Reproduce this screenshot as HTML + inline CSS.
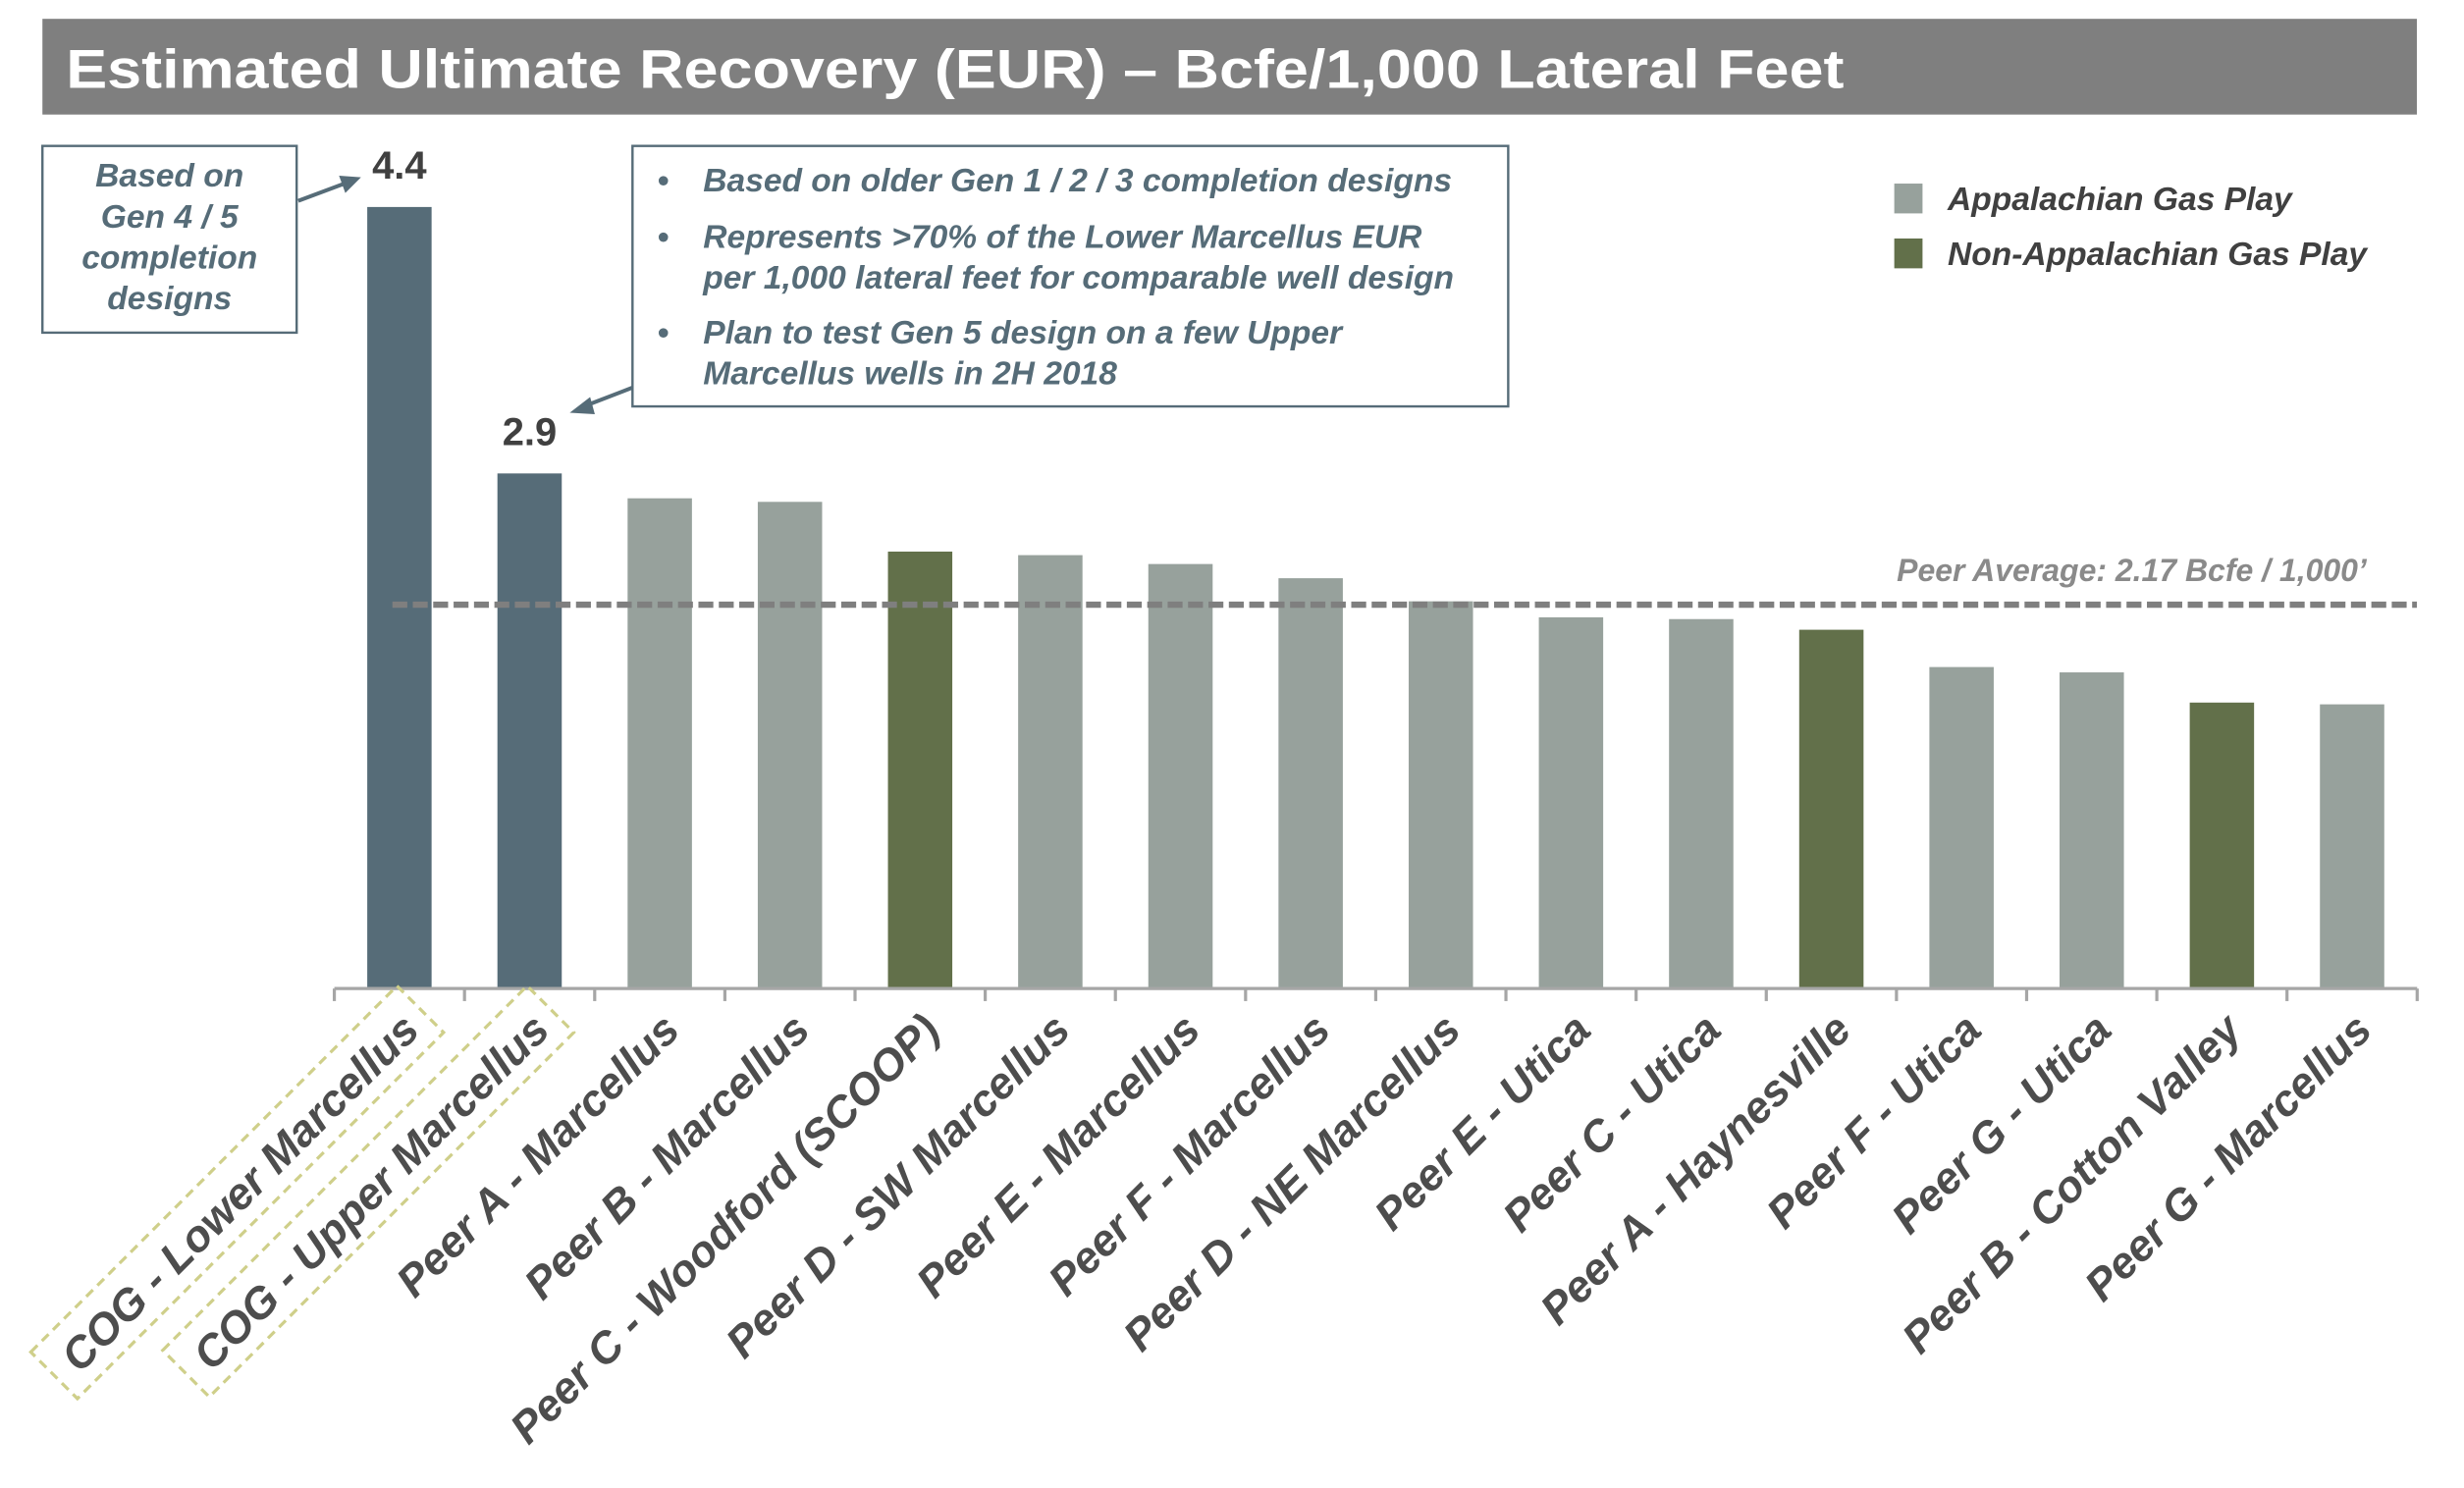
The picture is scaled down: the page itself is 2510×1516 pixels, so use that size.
<!DOCTYPE html>
<html><head><meta charset="utf-8"><style>
html,body{margin:0;padding:0;background:#fff;}
svg{display:block;font-family:"Liberation Sans",Arial,sans-serif;}
</style></head><body>
<svg id="chart" width="2510" height="1516" viewBox="0 0 1570 948.3" xmlns="http://www.w3.org/2000/svg">
<rect x="27" y="12" width="1513" height="61" fill="#7f7f7f"/>
<text x="42" y="56" font-size="35" font-weight="bold" fill="#fff" textLength="1133" lengthAdjust="spacingAndGlyphs">Estimated Ultimate Recovery (EUR) – Bcfe/1,000 Lateral Feet</text>

<g>
<rect x="27" y="93" width="162" height="119" fill="#fff" stroke="#566c78" stroke-width="1.5"/>
<g font-size="21" font-weight="bold" font-style="italic" fill="#566c78" text-anchor="middle">
<text x="108" y="119">Based on</text>
<text x="108" y="145">Gen 4 / 5</text>
<text x="108" y="171">completion</text>
<text x="108" y="197">designs</text>
</g>
<line x1="190" y1="128" x2="222" y2="116" stroke="#566c78" stroke-width="2.5"/>
<polygon points="230,113 216,112 220,123" fill="#566c78"/>
</g>

<g>
<rect x="403" y="93" width="558" height="166" fill="#fff" stroke="#566c78" stroke-width="1.5"/>
<g font-size="21" font-weight="bold" font-style="italic" fill="#566c78">
<text x="419" y="122" font-style="normal">•</text>
<text x="448" y="122">Based on older Gen 1 / 2 / 3 completion designs</text>
<text x="419" y="158" font-style="normal">•</text>
<text x="448" y="158">Represents &gt;70% of the Lower Marcellus EUR</text>
<text x="448" y="184">per 1,000 lateral feet for comparable well design</text>
<text x="419" y="219" font-style="normal">•</text>
<text x="448" y="219">Plan to test Gen 5 design on a few Upper</text>
<text x="448" y="245">Marcellus wells in 2H 2018</text>
</g>
<line x1="403" y1="247" x2="372" y2="259" stroke="#566c78" stroke-width="2.5"/>
<polygon points="363,263 376,253 379,264" fill="#566c78"/>
</g>

<g>
<rect x="1207" y="117" width="18" height="19" fill="#97a19c"/>
<text x="1241" y="134" font-size="21" font-weight="bold" font-style="italic" fill="#404040">Appalachian Gas Play</text>
<rect x="1207" y="152" width="18" height="19" fill="#62704a"/>
<text x="1241" y="169" font-size="21" font-weight="bold" font-style="italic" fill="#404040">Non-Appalachian Gas Play</text>
</g>

<g id="plot"></g>
</svg>
<script>
const categories = ["COG - Lower Marcellus","COG - Upper Marcellus","Peer A - Marcellus","Peer B - Marcellus","Peer C - Woodford (SCOOP)","Peer D - SW Marcellus","Peer E - Marcellus","Peer F - Marcellus","Peer D - NE Marcellus","Peer E - Utica","Peer C - Utica","Peer A - Haynesville","Peer F - Utica","Peer G - Utica","Peer B - Cotton Valley","Peer G - Marcellus"];
const values = [4.4,2.9,2.76,2.74,2.46,2.44,2.39,2.31,2.18,2.09,2.08,2.02,1.81,1.78,1.61,1.60];
const groups = ["cog","cog","app","app","non","app","app","app","app","app","app","non","app","app","non","app"];
const valueLabels = ["4.4","2.9"];
const peerAverage = 2.17;
const peerAverageLabel = "Peer Average: 2.17 Bcfe / 1,000’";

const NS="http://www.w3.org/2000/svg";
const plot=document.getElementById('plot');
const baseY=630, pxPerUnit=113.2, x0=213, band=82.95, barW=41;
const colors={cog:"#566c78",app:"#97a19c",non:"#62704a"};
function y(v){return baseY - v*pxPerUnit;}
function xc(i){return x0 + band*(i+0.5);}
function mk(tag,attrs){const e=document.createElementNS(NS,tag);for(const k in attrs)e.setAttribute(k,attrs[k]);plot.appendChild(e);return e;}

values.forEach((v,i)=>{
  const r=mk('rect',{x:xc(i)-barW/2,y:y(v),width:barW,height:baseY-y(v),fill:colors[groups[i]]});
  
  
});
valueLabels.forEach((t,i)=>{
  const e=mk('text',{x:xc(i),y:y(values[i])-18,'text-anchor':'middle','font-size':'25','font-weight':'bold',fill:'#404040'});
  e.textContent=t;
  
  
});
const ax=mk('line',{x1:x0,y1:baseY,x2:x0+band*categories.length,y2:baseY,stroke:'#a6a6a6','stroke-width':2});


for(let i=0;i<=categories.length;i++){
  const t=mk('line',{x1:x0+band*i,y1:baseY,x2:x0+band*i,y2:baseY+8,stroke:'#a6a6a6','stroke-width':2});
  
  
}
const av=mk('line',{x1:250,y1:y(peerAverage)+1,x2:1540,y2:y(peerAverage)+1,stroke:'#7f7f7f','stroke-width':4,'stroke-dasharray':'9.5 3.5'});


const avt=mk('text',{x:1508,y:y(peerAverage)-14,'text-anchor':'end','font-size':'20','font-weight':'bold','font-style':'italic',fill:'#8a8a8a'});
avt.textContent=peerAverageLabel;


categories.forEach((c,i)=>{
  const g=document.createElementNS(NS,'g');
  g.setAttribute('transform','translate('+(xc(i)+14)+',658) rotate(-45)');
  plot.appendChild(g);
  const t=document.createElementNS(NS,'text');
  t.setAttribute('text-anchor','end');t.setAttribute('font-size','28');t.setAttribute('font-weight','bold');t.setAttribute('font-style','italic');t.setAttribute('fill','#4d4d4d');
  t.textContent=c;
  
  
  g.appendChild(t);
  if(groups[i]==='cog'){
    const w=t.getComputedTextLength();
    const b=document.createElementNS(NS,'rect');
    b.setAttribute('x',-w-12);b.setAttribute('y',-32);b.setAttribute('width',w+22);b.setAttribute('height',42);
    b.setAttribute('fill','none');b.setAttribute('stroke','#cfcf8a');b.setAttribute('stroke-width','2');b.setAttribute('stroke-dasharray','6 4');
    
    
    g.appendChild(b);
  }
});
</script>
</body></html>
